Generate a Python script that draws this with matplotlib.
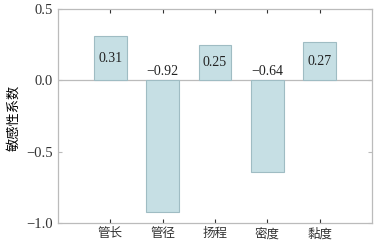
import matplotlib
matplotlib.use('Agg')
from matplotlib import pyplot as plt
from matplotlib.ticker import FuncFormatter

plt.rcParams['font.family'] = ['Liberation Serif', 'Noto Sans CJK SC']
plt.rcParams['axes.unicode_minus'] = True

categories = ['管长', '管径', '扬程', '密度', '黏度']
values = [0.31, -0.92, 0.25, -0.64, 0.27]
labels = ['0.31', '\u22120.92', '0.25', '\u22120.64', '0.27']

fig = plt.figure(figsize=(3.86, 2.45), dpi=100)
ax = fig.add_axes([58 / 386, 1 - 223 / 245, 314 / 386, 214 / 245])

x = list(range(len(categories)))
ax.bar(x, values, width=0.62, color='#c6dfe4', edgecolor='#9fbcc3', linewidth=0.8, zorder=2)
ax.axhline(0, color='#bbbbbb', linewidth=0.9, zorder=1)

for xi, v, lab in zip(x, values, labels):
    if v > 0:
        ax.text(xi, v / 2, lab, ha='center', va='center', fontsize=10, color='#222222', zorder=3)
    else:
        ax.text(xi, 0.015, lab, ha='center', va='bottom', fontsize=10, color='#222222', zorder=3)

ax.set_xlim(-1, 5)
ax.set_ylim(-1.0, 0.5)
ax.set_xticks(x)
ax.set_xticklabels(categories, fontsize=9)
ax.set_yticks([-1.0, -0.5, 0.0, 0.5])
ax.yaxis.set_major_formatter(FuncFormatter(lambda v, p: ('%.1f' % v).replace('-', '\u2212')))
ax.tick_params(axis='y', labelsize=10.5, colors='#333333', pad=4)
ax.tick_params(direction='in', length=3, color='#bbbbbb', top=True, right=True)
ax.tick_params(axis='x', colors='#333333')
for sp in ax.spines.values():
    sp.set_color('#bbbbbb')
    sp.set_linewidth(0.9)

ax.set_ylabel('敏感性系数', fontsize=9.5)
ax.yaxis.set_label_coords(-38 / 314, 0.49)

fig.savefig('out.png', dpi=100)
